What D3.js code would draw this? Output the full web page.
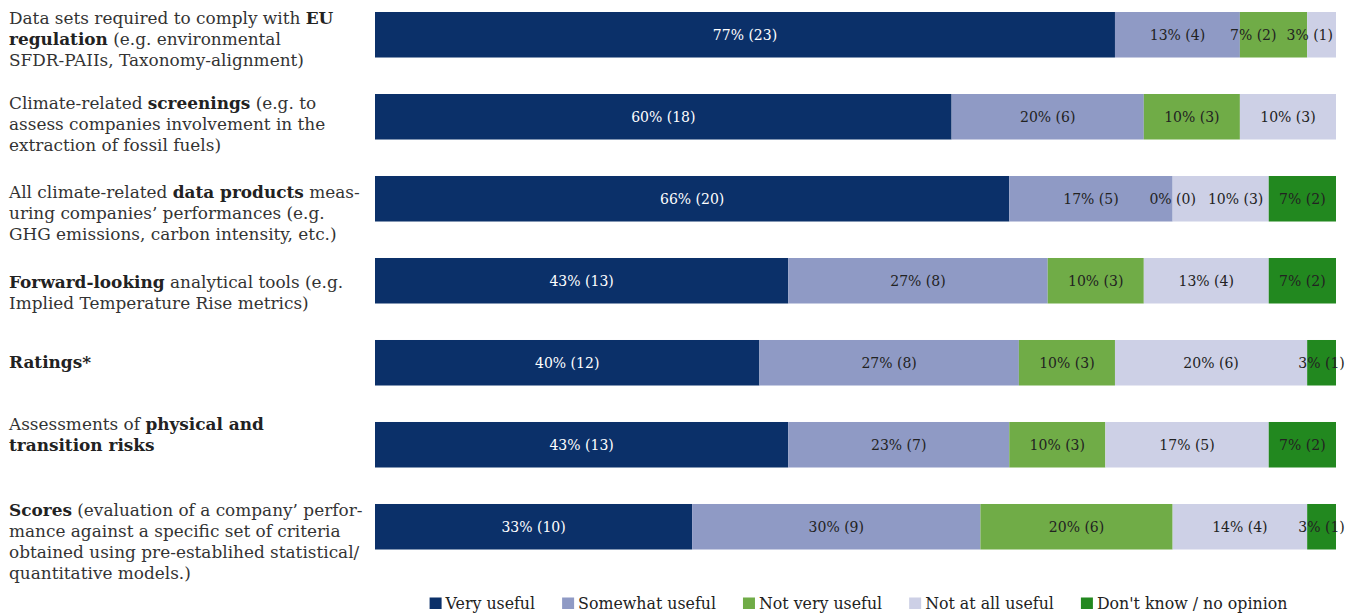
<!DOCTYPE html>
<html>
<head>
<meta charset="utf-8">
<script src="https://cdn.jsdelivr.net/npm/d3@7"></script>
<style>
  html, body { margin: 0; padding: 0; background: #fff; }
  svg { display: block; }
</style>
</head>
<body>
<svg id="chart" width="1354" height="614"></svg>
<script>
// ---------------- DATA ----------------
// "^" toggles bold in category labels
const categoryLines = [
  ["Data sets required to comply with ^EU^", "^regulation^ (e.g. environmental", "SFDR-PAIIs, Taxonomy-alignment)"],
  ["Climate-related ^screenings^ (e.g. to", "assess companies involvement in the", "extraction of fossil fuels)"],
  ["All climate-related ^data products^ meas-", "uring companies’ performances (e.g.", "GHG emissions, carbon intensity, etc.)"],
  ["^Forward-looking^ analytical tools (e.g.", "Implied Temperature Rise metrics)"],
  ["^Ratings*^"],
  ["Assessments of ^physical and^", "^transition risks^"],
  ["^Scores^ (evaluation of a company’ perfor-", "mance against a specific set of criteria", "obtained using pre-establihed statistical/", "quantitative models.)"]
];
const seriesNames = ["Very useful", "Somewhat useful", "Not very useful", "Not at all useful", "Don't know / no opinion"];

const pctVeryUseful     = [77, 60, 66, 43, 40, 43, 33];
const pctSomewhatUseful = [13, 20, 17, 27, 27, 23, 30];
const pctNotVeryUseful  = [7, 10, 0, 10, 10, 10, 20];
const pctNotAtAllUseful = [3, 10, 10, 13, 20, 17, 14];
const pctDontKnow       = [0, 0, 7, 7, 3, 7, 3];

const cntVeryUseful     = [23, 18, 20, 13, 12, 13, 10];
const cntSomewhatUseful = [4, 6, 5, 8, 8, 7, 9];
const cntNotVeryUseful  = [2, 3, 0, 3, 3, 3, 6];
const cntNotAtAllUseful = [1, 3, 3, 4, 6, 5, 4];
const cntDontKnow       = [0, 0, 2, 2, 1, 2, 1];

// ---------------- STYLE / LAYOUT ----------------
const colors = ["#0b3069", "#8f9ac5", "#70ac47", "#cdd0e6", "#22881f"];
const labelTextColors = ["#ffffff", "#222222", "#222222", "#222222", "#222222"];
const labelTopOffsets = [6, 9, 16, 24, 22, 2, 6]; // first text line centre, relative to bar top
const slab = "'DejaVu Serif', 'Liberation Serif', serif";

const pcts = [pctVeryUseful, pctSomewhatUseful, pctNotVeryUseful, pctNotAtAllUseful, pctDontKnow];
const cnts = [cntVeryUseful, cntSomewhatUseful, cntNotVeryUseful, cntNotAtAllUseful, cntDontKnow];

const rows = categoryLines.map((lines, i) => {
  const o = { idx: i, lines };
  seriesNames.forEach((s, j) => { o[s] = pcts[j][i]; });
  return o;
});

const svg = d3.select("#chart");

const x = d3.scaleLinear().domain([0, 100]).range([375, 1336]);
const y = d3.scaleBand().domain(d3.range(rows.length)).range([12, 549.5]).paddingInner(0.445).paddingOuter(0);

const stacked = d3.stack().keys(seriesNames)(rows);

// bars
const layers = svg.append("g").selectAll("g")
  .data(stacked).join("g")
  .attr("fill", (d, j) => colors[j]);

layers.selectAll("rect")
  .data(d => d.map(v => ({ v, key: d.key })))
  .join("rect")
  .attr("x", d => x(d.v[0]))
  .attr("y", d => y(d.v.data.idx))
  .attr("width", d => Math.max(0, x(d.v[1]) - x(d.v[0])))
  .attr("height", y.bandwidth());

// value labels
const labelG = svg.append("g");
rows.forEach((r, i) => {
  const items = [];
  seriesNames.forEach((s, j) => {
    const p = pcts[j][i];
    const laterNonZero = pcts.slice(j + 1).some(a => a[i] > 0);
    if (p > 0 || laterNonZero) {
      const seg = stacked[j][i];
      items.push({ j, cx: (x(seg[0]) + x(seg[1])) / 2, text: `${p}% (${cnts[j][i]})` });
    }
  });
  // create + measure
  items.forEach(it => {
    it.node = labelG.append("text")
      .attr("y", y(i) + y.bandwidth() / 2)
      .attr("dy", "0.35em")
      .attr("text-anchor", "middle")
      .attr("font-family", slab)
      .attr("font-size", 14)
      .attr("fill", labelTextColors[it.j])
      .text(it.text);
    it.w = it.node.node().getComputedTextLength();
  });
  // forward pass: avoid overlaps
  let prevRight = -Infinity;
  items.forEach(it => {
    if (it.cx - it.w / 2 < prevRight + 12) it.cx = prevRight + 12 + it.w / 2;
    prevRight = it.cx + it.w / 2;
  });
  // if the row does not end with the last series, keep labels inside the bar end
  const last = items[items.length - 1];
  if (last.j !== seriesNames.length - 1) {
    let limit = x.range()[1] - 3;
    for (let k = items.length - 1; k >= 0; k--) {
      const it = items[k];
      if (it.cx + it.w / 2 > limit) it.cx = limit - it.w / 2;
      limit = it.cx - it.w / 2 - 10;
    }
  }
  items.forEach(it => it.node.attr("x", it.cx));
});

// category labels
const catG = svg.append("g");
const lineH = 21;
rows.forEach((r, i) => {
  const t0 = y(i) + labelTopOffsets[i];
  r.lines.forEach((line, k) => {
    const text = catG.append("text")
      .attr("x", 9)
      .attr("y", t0 + k * lineH)
      .attr("dy", "0.35em")
      .attr("font-family", slab)
      .attr("font-size", 16.9)
      .attr("fill", "#333");
    const parts = line.split("^");
    parts.forEach((p, pi) => {
      if (!p) return;
      text.append("tspan")
        .attr("font-weight", pi % 2 === 1 ? "bold" : "normal")
        .attr("fill", pi % 2 === 1 ? "#222" : "#333")
        .text(p);
    });
  });
});

// legend
const legendG = svg.append("g");
const legendY = 603.5;
const items = seriesNames.map((s, j) => {
  const g = legendG.append("g");
  g.append("rect").attr("y", legendY - 6).attr("width", 12).attr("height", 11.5).attr("fill", colors[j]);
  const t = g.append("text").attr("x", 16).attr("y", legendY).attr("dy", "0.35em")
    .attr("font-family", slab)
    .attr("font-size", 15.8).attr("fill", "#222").text(s);
  return { g, w: 16 + t.node().getComputedTextLength() };
});
const gap = 27;
const totalW = d3.sum(items, d => d.w) + gap * (items.length - 1);
let lx = (x.range()[0] + x.range()[1]) / 2 - totalW / 2 + 3;
items.forEach(it => { it.g.attr("transform", `translate(${lx},0)`); lx += it.w + gap; });
</script>
</body>
</html>
